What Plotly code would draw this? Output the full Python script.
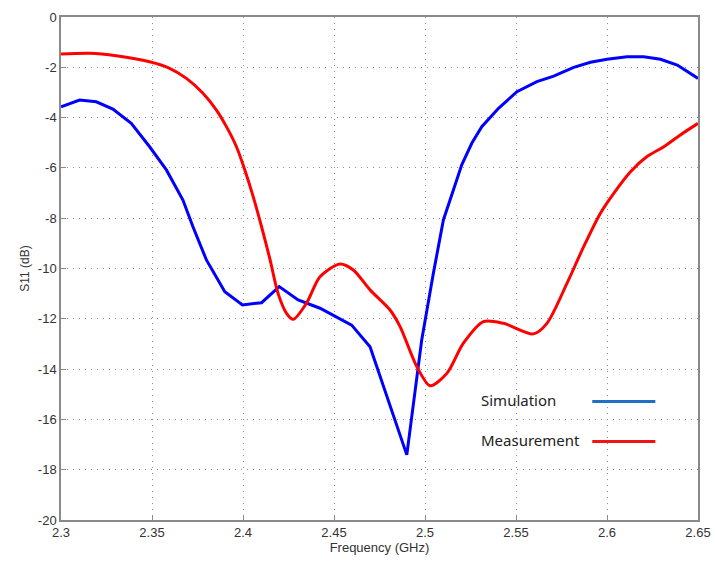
import plotly.graph_objects as go

sim_freq = [2.300, 2.3102, 2.3194, 2.3285, 2.3386, 2.3487, 2.3579, 2.3670, 2.3725, 2.3799,
            2.3900, 2.3997, 2.4102, 2.4199, 2.4303, 2.4423, 2.4597, 2.4698, 2.4900, 2.4982,
            2.5046, 2.5101, 2.5156, 2.5202, 2.5257, 2.5312, 2.5404, 2.5505, 2.5615, 2.5707,
            2.5817, 2.5909, 2.6000, 2.6110, 2.6202, 2.6294, 2.6386, 2.6441, 2.6500]
sim_s11 = [-3.57, -3.30, -3.37, -3.66, -4.23, -5.16, -6.08, -7.28, -8.34, -9.66,
           -10.92, -11.45, -11.36, -10.72, -11.25, -11.58, -12.25, -13.11, -17.41, -12.84,
           -10.19, -8.07, -6.88, -5.88, -5.02, -4.36, -3.63, -2.97, -2.57, -2.35,
           -2.00, -1.80, -1.68, -1.58, -1.58, -1.68, -1.91, -2.17, -2.44]

meas_freq = [2.3000, 2.3157, 2.3304, 2.3487, 2.3597, 2.3689, 2.3780, 2.3854, 2.3909, 2.3964,
             2.4010, 2.4056, 2.4102, 2.4147, 2.4193, 2.4239, 2.4276, 2.4349, 2.4423, 2.4533,
             2.4606, 2.4698, 2.4808, 2.4863, 2.4955, 2.5028, 2.5120, 2.5211, 2.5321, 2.5431,
             2.5596, 2.5670, 2.5780, 2.5872, 2.5963, 2.6037, 2.6129, 2.6220, 2.6312, 2.6403,
             2.6500]
meas_s11 = [-1.47, -1.44, -1.54, -1.78, -2.04, -2.44, -3.03, -3.70, -4.36, -5.16,
            -6.08, -7.14, -8.34, -9.60, -11.00, -11.78, -12.02, -11.38, -10.33, -9.82,
            -10.06, -10.85, -11.65, -12.31, -13.90, -14.66, -14.17, -12.97, -12.11, -12.18,
            -12.60, -12.18, -10.59, -9.13, -7.81, -7.01, -6.15, -5.55, -5.16, -4.69,
            -4.23]

x_ticks = [2.3, 2.35, 2.4, 2.45, 2.5, 2.55, 2.6, 2.65]
x_tick_labels = ["2.3", "2.35", "2.4", "2.45", "2.5", "2.55", "2.6", "2.65"]
y_ticks = [0, -2, -4, -6, -8, -10, -12, -14, -16, -18, -20]
y_tick_labels = ["0", "-2", "-4", "-6", "-8", "-10", "-12", "-14", "-16", "-18", "-20"]

legend_names = ["Simulation", "Measurement"]
legend_colors = ["#1f6fc4", "#f01414"]

fig = go.Figure()
fig.add_trace(go.Scatter(x=sim_freq, y=sim_s11, mode="lines", name="Simulation",
                         line=dict(color="#0000ff", width=3)))
fig.add_trace(go.Scatter(x=meas_freq, y=meas_s11, mode="lines", name="Measurement",
                         line=dict(color="#ff0000", width=3, shape="spline", smoothing=0.8)))

axis_common = dict(showline=True, linecolor="#8a8a8a", linewidth=1.5, mirror=True,
                   showgrid=True, gridcolor="#8f8f8f", griddash="1px,5px", gridwidth=1,
                   ticks="inside", ticklen=5, tickcolor="#8a8a8a", zeroline=False,
                   automargin=False,
                   tickfont=dict(family="Liberation Sans, Arial", size=13, color="#333333"))

fig.update_xaxes(range=[2.3, 2.65], tickvals=x_ticks, ticktext=x_tick_labels,
                 title=dict(text="Frequency (GHz)", font=dict(family="Liberation Sans, Arial", size=13, color="#333333"), standoff=4),
                 **axis_common)
fig.update_yaxes(range=[-20, 0], tickvals=y_ticks, ticktext=y_tick_labels,
                 title=dict(text="S11 (dB)", font=dict(family="Liberation Sans, Arial", size=12, color="#333333"), standoff=6),
                 **axis_common)

legend_y = [0.2386, 0.1590]
for name, color, yy in zip(legend_names, legend_colors, legend_y):
    fig.add_annotation(x=0.6565, y=yy, xref="paper", yref="paper", text=name,
                       showarrow=False, xanchor="left", yanchor="middle",
                       font=dict(family="Noto Sans, Open Sans", size=15, color="#222222"))
    fig.add_shape(type="line", xref="paper", yref="paper", x0=0.834, x1=0.933,
                  y0=yy - 0.003, y1=yy - 0.003, line=dict(color=color, width=3))

fig.update_layout(width=715, height=563, margin=dict(l=61, r=17, t=17, b=43),
                  paper_bgcolor="white", plot_bgcolor="white", showlegend=False)

fig.write_html("out.html")
